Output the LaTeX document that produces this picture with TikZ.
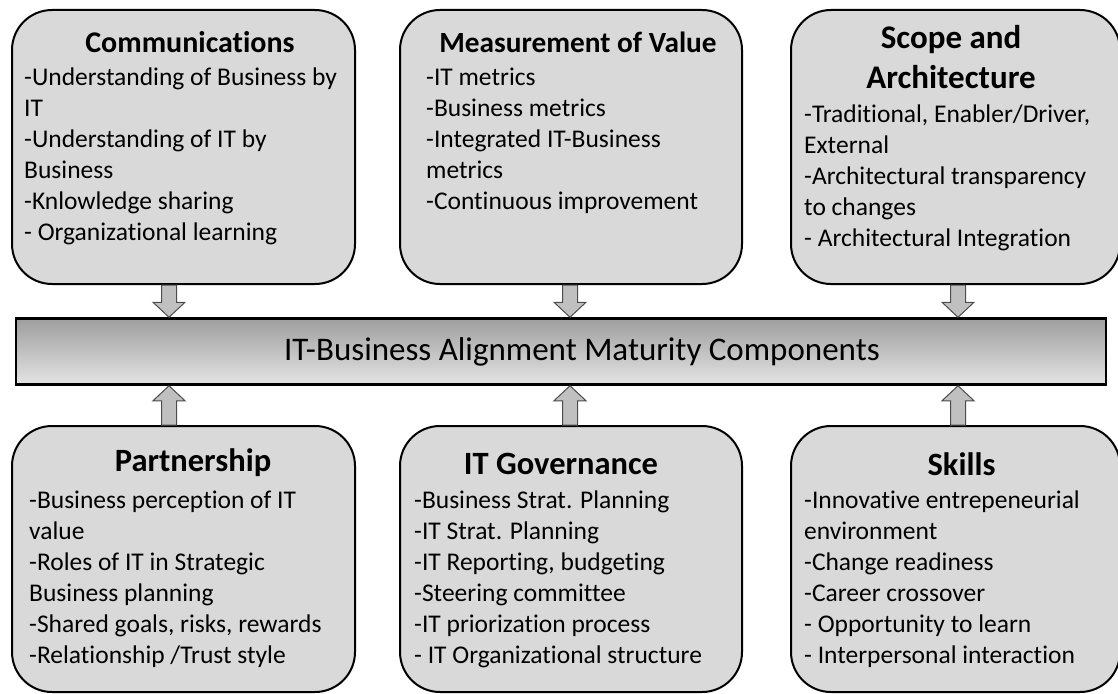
\documentclass[tikz,border=0pt]{standalone}
\usepackage{fontspec}
\setmainfont{Carlito}[Ligatures={NoCommon}]
\usetikzlibrary{positioning,calc}

\definecolor{boxgray}{RGB}{217,217,217}
\definecolor{arrowgray}{RGB}{192,192,192}
\definecolor{bartop}{RGB}{158,158,158}
\definecolor{barbottom}{RGB}{228,228,228}

% fat arrow from #1 (tail) to #2 (tip), both on one vertical
\newcommand{\fatarrow}[2]{%
  \draw[fatarrow] let \p1=(#1), \p2=(#2), \n1={ifthenelse(\y2>\y1,1,-1)} in
    (\x1-7.5,\y1) -- (\x1-7.5,\y2-15*\n1) -- (\x1-16,\y2-15*\n1) -- (\x2,\y2)
    -- (\x1+16,\y2-15*\n1) -- (\x1+7.5,\y2-15*\n1) -- (\x1+7.5,\y1) -- cycle;}

\begin{document}
\begin{tikzpicture}[x=1pt,y=-1pt]
      \tikzset{
        box/.style={draw,line width=2pt,rounded corners=40pt,fill=boxgray,
          minimum width=343pt,minimum height=274pt},
        bar/.style={draw,line width=2.5pt,top color=bartop,bottom color=barbottom,
          minimum width=1090pt,minimum height=66pt},
        title/.style={font=\fontsize{#1}{40}\selectfont\bfseries,align=center,inner sep=0pt},
        title/.default=30,
        item/.style={font=\fontsize{25.5}{31}\selectfont,align=left,anchor=north west,inner sep=0pt},
        fatarrow/.style={draw=black!70,line width=1pt,fill=arrowgray}
      }
      \useasboundingbox (0,0) rectangle (1118,693);

      % the six boxes
      \node[box] (comm) at (183.5,147) {};
      \node[box,right=43pt of comm,minimum width=342pt] (meas) {};
      \node[box,right=47pt of meas,minimum width=329pt] (scope) {};
      \node[box,below=140pt of comm,minimum height=266pt] (part) {};
      \node[box,below=140pt of meas,minimum width=342pt,minimum height=266pt] (gov) {};
      \node[box,below=140pt of scope,minimum width=329pt,minimum height=266pt] (skills) {};

      \node[bar] (bar) at (561,351.5) {};
      \node[font=\fontsize{33}{40}\selectfont] (bar-t) at ([xshift=21pt]bar.center)
        {IT-Business Alignment Maturity Components};

      % titles
      \node[title] (comm-t) at ([shift={(6.5,33)}]comm.north) {Communications};
      \node[title=29.3] (meas-t) at ([shift={(7,33)}]meas.north) {Measurement of Value};
      \node[title=33] (scope-t) at ([shift={(-4.5,48)}]scope.north) {Scope and\\Architecture};
      \node[title=32.5] (part-t) at ([shift={(9.5,38)}]part.north) {Partnership};
      \node[title=32.5] (gov-t) at ([shift={(-10,39)}]gov.north) {IT Governance};
      \node[title=32.5] (skills-t) at ([shift={(6,39)}]skills.north) {Skills};

      % items
      \node[item] (comm-i) at ([shift={(13,59)}]comm.north west)
        {-Understanding of Business by\\IT\\-Understanding of IT by\\Business\\
         -Knlowledge sharing\\- Organizational learning};
      \node[item] (meas-i) at ([shift={(27,59)}]meas.north west)
        {-IT metrics\\-Business metrics\\-Integrated IT-Business\\metrics\\
         -Continuous improvement};
      \node[item] (scope-i) at ([shift={(14,96)}]scope.north west)
        {-Traditional, Enabler/Driver,\\External\\-Architectural transparency\\
         to changes\\- Architectural Integration};
      \node[item] (part-i) at ([shift={(18,66)}]part.north west)
        {-Business perception of IT\\value\\-Roles of IT in Strategic\\
         Business planning\\-Shared goals, risks, rewards\\-Relationship /Trust style};
      \node[item] (gov-i) at ([shift={(15,66)}]gov.north west)
        {-Business Strat. Planning\\-IT Strat. Planning\\-IT Reporting, budgeting\\
         -Steering committee\\-IT priorization process\\- IT Organizational structure};
      \node[item] (skills-i) at ([shift={(14,66)}]skills.north west)
        {-Innovative entrepeneurial\\environment\\-Change readiness\\
         -Career crossover\\- Opportunity to learn\\- Interpersonal interaction};

      % arrows into the bar
      \coordinate (a1) at (169,0);
      \coordinate (a2) at (570,0);
      \coordinate (a3) at (958,0);
      \fatarrow{comm.south -| a1}{bar.north -| a1}
      \fatarrow{meas.south -| a2}{bar.north -| a2}
      \fatarrow{scope.south -| a3}{bar.north -| a3}
      \fatarrow{part.north -| a1}{bar.south -| a1}
      \fatarrow{gov.north -| a2}{bar.south -| a2}
      \fatarrow{skills.north -| a3}{bar.south -| a3}
\end{tikzpicture}
\end{document}
